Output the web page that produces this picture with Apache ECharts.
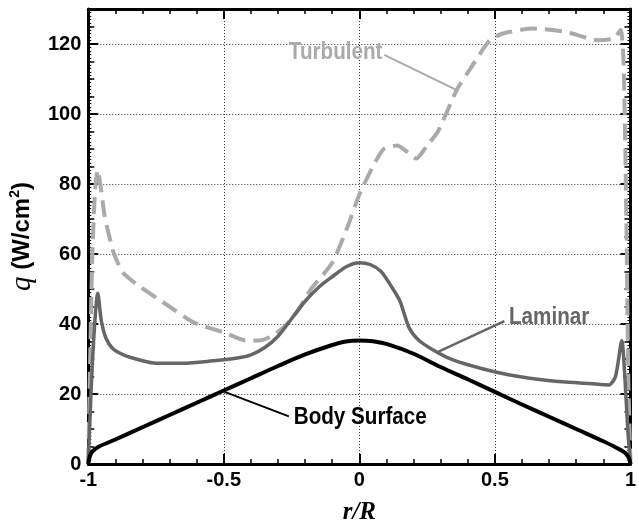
<!DOCTYPE html>
<html>
<head>
<meta charset="utf-8">
<script src="https://cdn.jsdelivr.net/npm/echarts/dist/echarts.min.js"></script>
<style>
  html, body { margin: 0; padding: 0; background: #fff; }
  #chart { width: 639px; height: 530px; }
</style>
</head>
<body>
<div id="chart"></div>
<script>
// 坐标 r/R 与热流 q (W/cm2)
var bodyR = [-1, -0.995, -0.985, -0.96, -0.9, -0.8, -0.7, -0.6, -0.5, -0.4, -0.3, -0.2, -0.1, -0.05, 0, 0.05, 0.1, 0.2, 0.3, 0.4, 0.5, 0.6, 0.7, 0.8, 0.9, 0.95, 0.98, 0.995, 1];
var bodyQ = [0, 2, 3.6, 5, 7, 10.5, 14, 17.5, 21, 24.5, 28, 31.3, 34, 35, 35.3, 35.1, 34.3, 31.5, 27.7, 24.2, 20.6, 17, 13.5, 10, 6.5, 4.6, 3.2, 1.6, 0];

var lamR = [-1, -0.99, -0.978, -0.965, -0.952, -0.935, -0.91, -0.87, -0.8, -0.75, -0.65, -0.55, -0.45, -0.4, -0.35, -0.3, -0.25, -0.2, -0.15, -0.1, -0.05, 0, 0.04, 0.08, 0.12, 0.15, 0.183, 0.22, 0.29, 0.35, 0.45, 0.55, 0.65, 0.75, 0.85, 0.92, 0.945, 0.968, 0.98, 0.99, 1];
var lamQ = [0, 20, 38, 48.8, 41, 36, 33, 31.2, 29.5, 28.8, 28.8, 29.4, 30.3, 31.2, 33.2, 36.5, 41.5, 46.5, 50.5, 53.5, 56.3, 57.5, 57, 55, 50.5, 46.5, 39, 35.3, 31.8, 29.6, 27.3, 25.5, 24.3, 23.5, 23, 22.6, 25, 35.2, 24, 10, 0];

var turbR = [-1, -0.993, -0.985, -0.975, -0.965, -0.952, -0.94, -0.928, -0.905, -0.87, -0.81, -0.72, -0.61, -0.5, -0.42, -0.37, -0.33, -0.28, -0.23, -0.18, -0.1, -0.04, 0, 0.05, 0.09, 0.14, 0.18, 0.21, 0.25, 0.29, 0.36, 0.41, 0.48, 0.53, 0.64, 0.76, 0.88, 0.94, 0.964, 0.975, 0.985, 0.992, 1];
var turbQ = [0, 30, 60, 78, 84, 78, 71, 66.8, 60, 54.5, 50.7, 46, 40.4, 37.6, 35.3, 35.3, 36.3, 39, 43.5, 49.8, 57.5, 68.5, 77, 85, 90, 91, 89, 87.3, 91, 95, 107, 113, 121, 123, 124.4, 123.5, 121.1, 121.6, 124, 114, 70, 25, 0];

// 标注（数据坐标）
var turbLabel = [-0.26, 117.5], turbLeader = [[0.092, 116.9], [0.365, 106.6]];
var lamLabel = [0.552, 41.8], lamLeader = [[0.535, 40.8], [0.292, 32.1]];
var bodyLabel = [-0.242, 13.2], bodyLeader = [[-0.26, 13.6], [-0.497, 20.6]];

function zip(a, b) {
    var out = [];
    for (var i = 0; i < a.length; i++) out.push([a[i], b[i]]);
    return out;
}

var sansFont = 'Liberation Sans, Arial, sans-serif';

function tickAxis(type, pos, interval, len, extra) {
    var ax = {
        type: 'value', position: pos, interval: interval,
        axisLine: { show: false, onZero: false },
        axisTick: { show: true, inside: true, length: len, lineStyle: { color: '#000', width: 1.5 } },
        axisLabel: { show: false },
        splitLine: { show: false }
    };
    if (type === 'x') { ax.min = -1; ax.max = 1; } else { ax.min = 0; ax.max = 130; }
    for (var k in extra) ax[k] = extra[k];
    return ax;
}

var mainLine = { show: true, onZero: false, lineStyle: { color: '#000', width: 3 } };
var mainTick = { show: true, inside: true, length: 10, lineStyle: { color: '#000', width: 2 } };
var tinyTick = { show: true, inside: true, length: 3, lineStyle: { color: '#000', width: 1 } };
var gridDots = { show: true, lineStyle: { color: '#333', width: 1, type: [1, 2] } };

var myChart = echarts.init(document.getElementById('chart'));

var option = {
    animation: false,
    grid: { left: 87, right: 3, top: 9, bottom: 60 },
    xAxis: [
        tickAxis('x', 'bottom', 0.5, 10, {
            axisLine: mainLine, axisTick: mainTick, splitLine: gridDots,
            axisLabel: { show: true, margin: 6, color: '#000', fontFamily: sansFont, fontWeight: 'bold', fontSize: 20 },
            name: 'r/R', nameLocation: 'middle', nameGap: 36,
            nameTextStyle: { fontFamily: 'Liberation Serif, Times New Roman, serif', fontStyle: 'italic', fontWeight: 'bold', fontSize: 25, color: '#000' }
        }),
        tickAxis('x', 'bottom', 0.1, 5, {}),
        tickAxis('x', 'top', 0.5, 10, { axisLine: mainLine, axisTick: mainTick }),
        tickAxis('x', 'top', 0.1, 5, {})
    ],
    yAxis: [
        tickAxis('y', 'left', 20, 10, {
            axisLine: mainLine, axisTick: mainTick, splitLine: gridDots,
            axisLabel: { show: true, margin: 7, showMaxLabel: false, color: '#000', fontFamily: sansFont, fontWeight: 'bold', fontSize: 20 },
            name: '{q|q}  {b|(W/cm}{s|2}{b|)}', nameLocation: 'middle', nameGap: 48, nameRotate: 90,
            nameTextStyle: {
                color: '#000',
                rich: {
                    q: { fontFamily: 'Liberation Serif, Times New Roman, serif', fontStyle: 'italic', fontSize: 29, color: '#000' },
                    b: { fontFamily: sansFont, fontWeight: 'bold', fontSize: 24, color: '#000' },
                    s: { fontFamily: sansFont, fontWeight: 'bold', fontSize: 14, color: '#000', verticalAlign: 'top', padding: [0, 0, 10, 0] }
                }
            }
        }),
        tickAxis('y', 'left', 5, 6, {}),
        tickAxis('y', 'left', 1, 3, { axisTick: tinyTick }),
        tickAxis('y', 'right', 20, 10, { axisLine: mainLine, axisTick: mainTick }),
        tickAxis('y', 'right', 5, 6, {}),
        tickAxis('y', 'right', 1, 3, { axisTick: tinyTick })
    ],
    series: [
        {
            name: 'Turbulent', type: 'line', data: zip(turbR, turbQ), symbol: 'none', z: 3,
            smooth: 0.2,
            lineStyle: { color: '#aaaaaa', width: 4, type: [17, 8] }
        },
        {
            name: 'Laminar', type: 'line', data: zip(lamR, lamQ), symbol: 'none', z: 4,
            smooth: 0.25,
            lineStyle: { color: '#666666', width: 3.5 }
        },
        {
            name: 'Body Surface', type: 'line', data: zip(bodyR, bodyQ), symbol: 'none', z: 5,
            smooth: 0.3,
            lineStyle: { color: '#000', width: 4 }
        },
        { type: 'line', data: turbLeader, symbol: 'none', lineStyle: { color: '#aaaaaa', width: 2 } },
        { type: 'line', data: lamLeader, symbol: 'none', lineStyle: { color: '#666666', width: 2.5 } },
        { type: 'line', data: bodyLeader, symbol: 'none', lineStyle: { color: '#000', width: 2 } }
    ]
};

myChart.setOption(option);

// 曲线名称文字（字体偏窄，横向压缩）
function labelText(pos, text, color) {
    var p = myChart.convertToPixel({ gridIndex: 0 }, pos);
    return {
        type: 'text', x: p[0], y: p[1], z: 10, scaleX: 0.86,
        style: { text: text, fill: color, font: 'bold 24px ' + sansFont, textAlign: 'left', textVerticalAlign: 'middle' }
    };
}
myChart.setOption({
    graphic: [
        labelText(turbLabel, 'Turbulent', '#aaaaaa'),
        labelText(lamLabel, 'Laminar', '#666666'),
        labelText(bodyLabel, 'Body Surface', '#000')
    ]
});
</script>
</body>
</html>
